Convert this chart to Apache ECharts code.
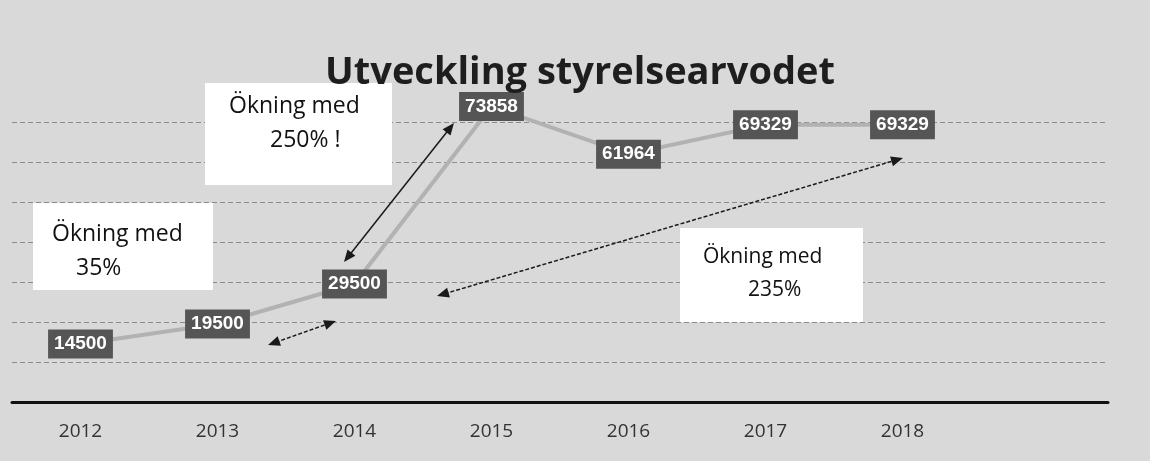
<!DOCTYPE html>
<html>
<head>
<meta charset="utf-8">
<script src="https://cdn.jsdelivr.net/npm/echarts@6/dist/echarts.min.js"></script>
<style>html,body{margin:0;padding:0;background:#d9d9d9}#c{width:1150px;height:461px}</style>
</head>
<body>
<div id="c"></div>
<script>
const categories = ['2012', '2013', '2014', '2015', '2016', '2017', '2018', ''];
const values = [14500, 19500, 29500, 73858, 61964, 69329, 69329];
const titleText = 'Utveckling styrelsearvodet';
const notes = [
  { lines: ['Ökning med', '35%'] },
  { lines: ['Ökning med', '250% !'] },
  { lines: ['Ökning med', '235%'] }
];

const chart = echarts.init(document.getElementById('c'));

function arrow(x1, y1, x2, y2, dashed) {
  const els = [];
  const ang = Math.atan2(y2 - y1, x2 - x1);
  const L = 12, W = 5;
  function head(x, y, a) {
    const bx = x - L * Math.cos(a), by = y - L * Math.sin(a);
    const px = -Math.sin(a) * W, py = Math.cos(a) * W;
    return { type: 'polygon', z: 50, shape: { points: [[x, y], [bx + px, by + py], [bx - px, by - py]] }, style: { fill: '#1a1a1a' } };
  }
  els.push({ type: 'line', z: 50, shape: { x1: x1 + 8 * Math.cos(ang), y1: y1 + 8 * Math.sin(ang), x2: x2 - 8 * Math.cos(ang), y2: y2 - 8 * Math.sin(ang) },
    style: { stroke: '#1a1a1a', lineWidth: 1.5, lineDash: dashed ? [4, 2] : null } });
  els.push(head(x2, y2, ang));
  els.push(head(x1, y1, ang + Math.PI));
  return els;
}

function noteBox(x, y, w, h, lines, tx1, ty1, tx2, ty2, fs) {
  return [
    { type: 'rect', z: 40, shape: { x: x, y: y, width: w, height: h }, style: { fill: '#ffffff' } },
    { type: 'text', z: 41, style: { x: tx1, y: ty1, text: lines[0], fill: '#111', font: fs + 'px "Open Sans"', verticalAlign: 'middle' } },
    { type: 'text', z: 41, style: { x: tx2, y: ty2, text: lines[1], fill: '#111', font: fs + 'px "Open Sans"', verticalAlign: 'middle' } }
  ];
}

const graphics = [].concat(
  [{ type: 'text', z: 60, style: { x: 580, y: 73, text: titleText, fill: '#1e1e1e', font: 'bold 38px "Open Sans"', align: 'center', verticalAlign: 'middle' } }],
  noteBox(33, 203, 180, 87, notes[0].lines, 52, 234, 76, 268, 23),
  noteBox(205, 83, 187, 102, notes[1].lines, 229, 106, 270, 140, 23),
  noteBox(680, 228, 183, 94, notes[2].lines, 703, 257, 748, 290, 21),
  arrow(344, 262, 454, 123, false),
  arrow(268, 345, 336, 321, true),
  arrow(437, 296, 903, 158, true)
);

chart.setOption({
  backgroundColor: '#d9d9d9',
  animation: false,
  grid: { left: 12, right: 42, top: 82, bottom: 59 },
  xAxis: {
    type: 'category',
    data: categories,
    boundaryGap: true,
    axisLine: { lineStyle: { color: '#111', width: 3 } },
    axisTick: { show: false },
    axisLabel: { fontSize: 19, color: '#333', margin: 20, fontFamily: 'Open Sans' }
  },
  yAxis: {
    type: 'value',
    min: 0, max: 80000, interval: 10000,
    axisLabel: { show: false },
    axisLine: { show: false },
    axisTick: { show: false },
    splitLine: { showMaxLine: false, lineStyle: { color: '#8c8c8c', type: [5, 3], width: 1 } }
  },
  series: [{
    type: 'line',
    data: values,
    symbol: 'circle',
    symbolSize: 2,
    lineStyle: { color: '#b2b2b2', width: 4 },
    itemStyle: { color: '#b2b2b2' },
    label: {
      show: true,
      position: 'inside',
      color: '#fff',
      fontWeight: 'bold',
      fontSize: 19,
      fontFamily: 'Liberation Sans',
      backgroundColor: '#555',
      padding: [6, 6, 4, 6]
    },
    z: 10
  }],
  graphic: graphics
});
</script>
</body>
</html>
